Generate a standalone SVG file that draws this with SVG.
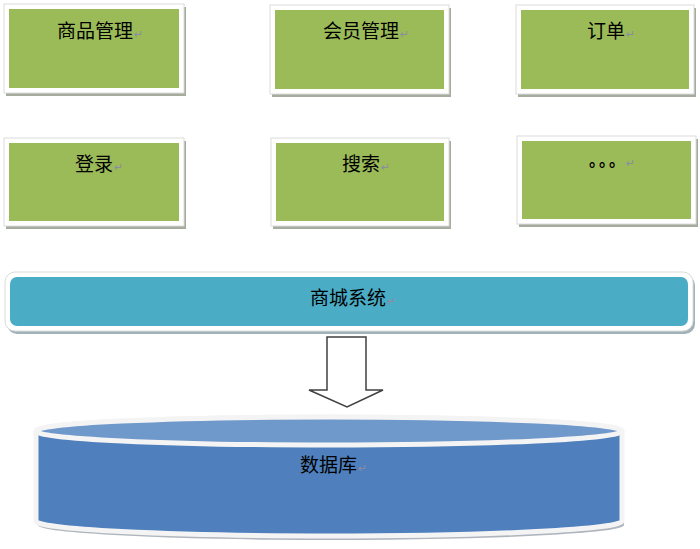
<svg xmlns="http://www.w3.org/2000/svg" width="700" height="549" viewBox="0 0 700 549">
<style>
.frame{fill:#ffffff;stroke:#dcdcdc;stroke-width:1}
.shadow{fill:#8f9784;opacity:0.8}
.green{fill:#9bbb59}
.t{font-family:"Noto Sans CJK SC","Liberation Sans",sans-serif;font-size:19px;fill:#000}
.m{font-family:"DejaVu Sans",sans-serif;font-size:11px;fill:#8c8ca0}
</style>
<rect width="700" height="549" fill="#ffffff"/>

<g id="node-goods">
<rect class="shadow" x="6" y="7" width="180" height="89"/>
<rect class="frame" x="4" y="4" width="180" height="89"/>
<rect class="green" x="9" y="9" width="170" height="79"/>
<text class="t" x="57" y="38">商品管理<tspan class="m" dx="1">↵</tspan></text>
</g>

<g id="node-member">
<rect class="shadow" x="272" y="8" width="179" height="89"/>
<rect class="frame" x="270" y="5" width="179" height="89"/>
<rect class="green" x="275" y="10" width="169" height="79"/>
<text class="t" x="323" y="38">会员管理<tspan class="m" dx="1">↵</tspan></text>
</g>

<g id="node-order">
<rect class="shadow" x="518" y="8" width="178" height="89"/>
<rect class="frame" x="516" y="5" width="178" height="89"/>
<rect class="green" x="521" y="10" width="168" height="79"/>
<text class="t" x="587" y="38">订单<tspan class="m" dx="1">↵</tspan></text>
</g>

<g id="node-login">
<rect class="shadow" x="6" y="141" width="180" height="88"/>
<rect class="frame" x="4" y="138" width="180" height="88"/>
<rect class="green" x="9" y="143" width="170" height="78"/>
<text class="t" x="75" y="171">登录<tspan class="m" dx="1">↵</tspan></text>
</g>

<g id="node-search">
<rect class="shadow" x="273" y="141" width="178" height="88"/>
<rect class="frame" x="271" y="138" width="178" height="88"/>
<rect class="green" x="276" y="143" width="168" height="78"/>
<text class="t" x="342" y="171">搜索<tspan class="m" dx="1">↵</tspan></text>
</g>

<g id="node-more">
<rect class="shadow" x="519" y="139" width="179" height="88"/>
<rect class="frame" x="517" y="136" width="179" height="88"/>
<rect class="green" x="522" y="141" width="169" height="78"/>
<text class="t" x="589 599 609" y="166" style="font-size:16px;font-weight:bold">。。。</text>
<text class="m" x="626" y="167">↵</text>
</g>

<g id="node-system">
<rect x="7" y="275" width="688" height="59" rx="10" fill="#8aa0a8" opacity="0.8"/>
<rect x="5" y="272" width="688" height="59" rx="10" fill="#ffffff" stroke="#dcdcdc" stroke-width="1"/>
<rect x="10" y="277" width="678" height="49" rx="7" fill="#4bacc6"/>
<text class="t" x="310" y="305">商城系统<tspan class="m" dx="1">↵</tspan></text>
</g>

<g id="connectors">
<polygon points="327,337 366,337 366,390 383,390 347,407 309,390 327,390" fill="#ffffff" stroke="#404040" stroke-width="1.5" stroke-linejoin="miter"/>
</g>

<g id="node-database">
<path d="M38,435 L38,525 A293,15 0 0 0 624,525 L624,435 Z" fill="#9aa2ac" opacity="0.8"/>
<path d="M36,431 L36,521 A293,15 0 0 0 622,521 L622,431 A293,14 0 0 0 36,431 Z" fill="#4f80bd" stroke="#f4f4f4" stroke-width="5"/>
<ellipse cx="329" cy="431" rx="293" ry="14" fill="#6f98cb" stroke="#f4f4f4" stroke-width="5"/>
<text class="t" x="300" y="472">数据库<tspan class="m" dx="1">↵</tspan></text>
</g>
</svg>
